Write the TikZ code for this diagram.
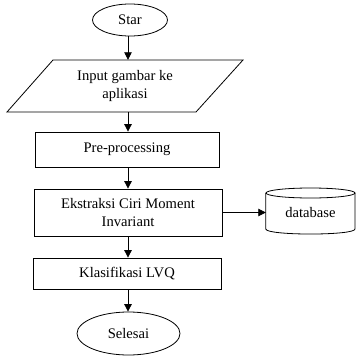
\documentclass[tikz,border=0pt]{standalone}
\usepackage{fontspec}
\setmainfont{Liberation Serif}
\usetikzlibrary{shapes.geometric,arrows.meta}
\begin{document}
\begin{tikzpicture}[x=1pt,y=-1pt,
  every node/.style={font=\fontsize{14.6}{17.5}\selectfont, align=center, inner sep=0pt},
  ln/.style={line width=0.8pt},
  arr/.style={ln,-{Triangle[length=7.5pt,width=7.5pt]}},
  term/.style={ln,draw,ellipse},
  proc/.style={ln,draw,rectangle},
  io/.style={rectangle,minimum width=190pt,minimum height=52pt}
]
\useasboundingbox (0,0) rectangle (356,356);
\node[term,minimum width=75pt,minimum height=32pt] (start) at (130,20) {Star};
\node[io] (input) at (125,86) {Input gambar ke\\aplikasi};
\draw[ln] (53,60) coordinate (p1) -- (243,60) -- (196,112) -- (7,112) -- cycle;
\node[proc,minimum width=184pt,minimum height=35pt] (pre) at (127,149.5) {Pre-processing};
\node[proc,minimum width=188pt,minimum height=47pt] (ext) at (128,212.5) {Ekstraksi Ciri Moment\\Invariant};
\node[proc,minimum width=188pt,minimum height=31pt] (klas) at (127,273.5) {Klasifikasi LVQ};
\node[term,minimum width=103pt,minimum height=43pt] (end) at (128.5,333.5) {Selesai};
\node[minimum width=89pt,minimum height=46pt] (db) at (310.5,212.5) {database};
% cylinder outline
\draw[ln] (db.north west |- 0,193) -- (db.north west |- 0,229)
  .. controls (266,235.7) and (355,235.7) .. (355,229) -- (355,193);
\draw[ln] (310.5,193) ellipse [x radius=44.5pt, y radius=5pt];
% connectors
\draw[arr] (start.south -| 128,0) -- (input.north -| 128,0);
\draw[arr] (input.south -| 128,0) -- (pre.north -| 128,0);
\draw[arr] (pre.south -| 128,0) -- (ext.north -| 128,0);
\draw[arr] (ext.south -| 128,0) -- (klas.north -| 128,0);
\draw[arr] (klas.south -| 128,0) -- (end.north -| 128,0);
\draw[arr] (ext.east) -- (db.west);
\end{tikzpicture}
\end{document}
